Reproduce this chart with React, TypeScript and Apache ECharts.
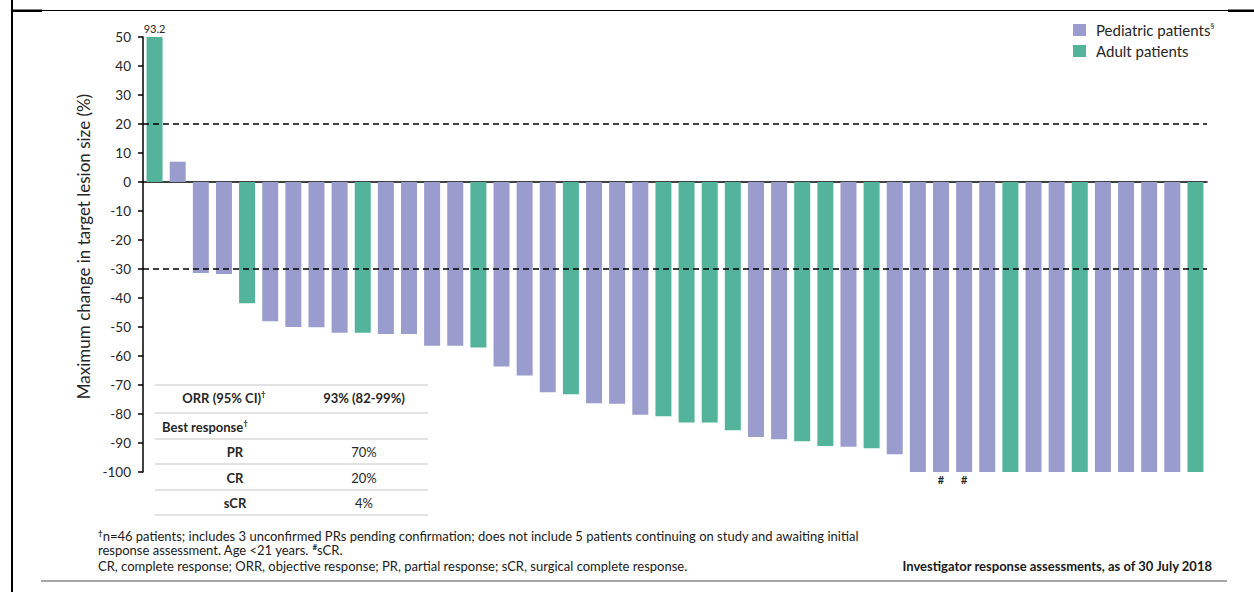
import React, { useEffect, useRef } from "react";
import * as echarts from "echarts";

// Patients in order of best response (waterfall order)
const patients = [
  "1", "2", "3", "4", "5", "6", "7", "8", "9", "10",
  "11", "12", "13", "14", "15", "16", "17", "18", "19", "20",
  "21", "22", "23", "24", "25", "26", "27", "28", "29", "30",
  "31", "32", "33", "34", "35", "36", "37", "38", "39", "40",
  "41", "42", "43", "44", "45", "46",
];

// Maximum change in target lesion size (%)
const bestChange = [
  93.2, 7, -31.4, -31.7, -41.8, -48, -50, -50.1, -52, -52,
  -52.4, -52.4, -56.5, -56.5, -57.1, -63.6, -66.7, -72.5, -73.2, -76.3,
  -76.5, -80.3, -80.8, -82.9, -82.9, -85.6, -87.9, -88.7, -89.4, -91.0,
  -91.3, -91.8, -93.9, -100, -100, -100, -100, -100, -100, -100,
  -100, -100, -100, -100, -100, -100,
];

// P = pediatric, A = adult
const cohort = [
  "A", "P", "P", "P", "A", "P", "P", "P", "P", "A",
  "P", "P", "P", "P", "A", "P", "P", "P", "A", "P",
  "P", "P", "A", "A", "A", "A", "P", "P", "A", "A",
  "P", "A", "P", "P", "P", "P", "P", "A", "P", "P",
  "A", "P", "P", "P", "P", "A",
];

// Patients with a surgical complete response
const sCRPatients = ["35", "36"];

const seriesNames = ["Pediatric patients", "Adult patients"];
const seriesCodes = ["P", "A"];
const seriesColors = ["#999ccd", "#53b39b"];

// Y axis
const yMin = -100;
const yMax = 50;
const yStep = 10;
const thresholds = [20, -30];

// Summary table
const orrLabel = "ORR (95% CI)";
const orrValue = "93% (82-99%)";
const bestResponseLabel = "Best response";
const responseTypes = ["PR", "CR", "sCR"];
const responseRates = ["70%", "20%", "4%"];

const footLine1 =
  "n=46 patients; includes 3 unconfirmed PRs pending confirmation; does not include 5 patients continuing on study and awaiting initial";
const footLine2a = "response assessment. Age <21 years. ";
const footLine2b = "sCR.";
const footLine3 =
  "CR, complete response; ORR, objective response; PR, partial response; sCR, surgical complete response.";
const sourceNote = "Investigator response assessments, as of 30 July 2018";

const FONT = "Lato";
const INK = "#262626";

function buildSeriesData(code: string) {
  return bestChange.map((v, i) => {
    if (cohort[i] !== code) return "-";
    const item: any = { value: v };
    if (v > yMax) {
      item.label = {
        show: true,
        position: "top",
        distance: 3,
        formatter: "{c}",
        fontSize: 11,
        color: INK,
        fontFamily: FONT,
      };
    } else if (sCRPatients.includes(patients[i])) {
      item.label = {
        show: true,
        position: "outside",
        distance: 2,
        formatter: "#",
        fontSize: 11,
        fontWeight: "bold",
        color: INK,
        fontFamily: FONT,
      };
    }
    return item;
  });
}

function tableGraphics(): any[] {
  const x0 = 155;
  const x1 = 428;
  const lineYs = [385, 413, 439, 464, 490, 515];
  const colA = 235;
  const colB = 364;
  const els: any[] = lineYs.map((y) => ({
    type: "line",
    shape: { x1: x0, y1: y, x2: x1, y2: y },
    style: { stroke: "#d9d9d9", lineWidth: 1.5 },
    silent: true,
  }));
  const rich = {
    b: { fontSize: 13, fontWeight: "bold", fill: INK, color: INK, fontFamily: FONT, lineHeight: 16 },
    sup: { fontSize: 8, fontWeight: "bold", fill: INK, color: INK, fontFamily: FONT, verticalAlign: "top", lineHeight: 16 },
  };
  const txt = (x: number, y: number, text: string, align: string, bold: boolean, useRich = false) => ({
    type: "text",
    x,
    y,
    silent: true,
    style: {
      text,
      fill: INK,
      fontFamily: FONT,
      fontSize: 13,
      fontWeight: bold ? "bold" : "normal",
      align,
      textAlign: align,
      verticalAlign: "middle",
      textVerticalAlign: "middle",
      ...(useRich ? { rich } : {}),
    },
  });
  els.push(txt(224, 398, `{b|${orrLabel}}{sup|†}`, "center", true, true));
  els.push(txt(colB, 398, orrValue, "center", true));
  els.push(txt(162, 427, `{b|${bestResponseLabel}}{sup|†}`, "left", true, true));
  const rowYs = [452, 478, 503];
  responseTypes.forEach((t, i) => {
    els.push(txt(colA, rowYs[i], t, "center", true));
    els.push(txt(colB, rowYs[i], responseRates[i], "center", false));
  });
  return els;
}

function footGraphics(): any[] {
  const rich = {
    n: { fontSize: 13, fill: "#1a1a1a", color: "#1a1a1a", fontFamily: FONT, lineHeight: 15 },
    s: { fontSize: 8, fill: "#1a1a1a", color: "#1a1a1a", fontFamily: FONT, fontWeight: "bold", verticalAlign: "top", lineHeight: 15 },
  };
  const base = (x: number, y: number, text: string) => ({
    type: "text",
    x,
    y,
    silent: true,
    style: {
      text,
      fill: "#1a1a1a",
      fontFamily: FONT,
      fontSize: 13,
      align: "left",
      textAlign: "left",
      verticalAlign: "middle",
      textVerticalAlign: "middle",
      rich,
    },
  });
  return [
    base(98, 536, `{s|†}{n|${footLine1}}`),
    base(98, 550, `{n|${footLine2a}}{s|#}{n|${footLine2b}}`),
    base(98, 566, `{n|${footLine3}}`),
    {
      type: "text",
      x: 1212,
      y: 566,
      silent: true,
      style: {
        text: sourceNote,
        fill: "#1a1a1a",
        fontFamily: FONT,
        fontSize: 13,
        fontWeight: "bold",
        align: "right",
        textAlign: "right",
        verticalAlign: "middle",
        textVerticalAlign: "middle",
      },
    },
  ];
}

function frameGraphics(): any[] {
  return [
    { type: "line", shape: { x1: 12, y1: 0, x2: 12, y2: 592 }, style: { stroke: "#000", lineWidth: 2 }, silent: true },
    { type: "line", shape: { x1: 12, y1: 10.5, x2: 1254, y2: 10.5 }, style: { stroke: "#000", lineWidth: 1.2 }, silent: true },
    { type: "rect", shape: { x: 12, y: 9.5, width: 30, height: 2.5 }, style: { fill: "#000" }, silent: true },
    { type: "rect", shape: { x: 1228, y: 9.5, width: 26, height: 2.5 }, style: { fill: "#000" }, silent: true },
    { type: "line", shape: { x1: 41, y1: 581, x2: 1227, y2: 581 }, style: { stroke: "#a6a6a6", lineWidth: 2 }, silent: true },
  ];
}

export default function App() {
  const ref = useRef<HTMLDivElement>(null);

  useEffect(() => {
    if (!ref.current) return;
    const chart = echarts.init(ref.current, undefined, { renderer: "svg" });

    const series: any[] = seriesCodes.map((code, k) => ({
      name: seriesNames[k],
      type: "bar",
      data: buildSeriesData(code),
      barWidth: 16,
      barGap: "-100%",
      clip: true,
      itemStyle: { color: seriesColors[k] },
      emphasis: { disabled: true },
      ...(k === 0
        ? {
            markLine: {
              silent: true,
              symbol: ["none", "none"],
              label: { show: false },
              lineStyle: { color: "#000", type: [6, 4], width: 1.5 },
              data: thresholds.map((t) => ({ yAxis: t })),
            },
          }
        : {}),
    }));

    chart.setOption({
      animation: false,
      textStyle: { fontFamily: FONT },
      grid: { left: 143, right: 47, top: 37, bottom: 120, outerBoundsMode: "none", containLabel: false },
      legend: {
        orient: "vertical",
        left: 1073,
        top: 22,
        padding: 0,
        itemWidth: 13,
        itemHeight: 12,
        itemGap: 6,
        icon: "rect",
        selectedMode: false,
        data: seriesNames,
        formatter: (name: string) =>
          name === seriesNames[0] ? `{t|${name}}{s|§}` : `{t|${name}}`,
        textStyle: {
          rich: {
            t: { fontSize: 15, color: INK, fontFamily: FONT, lineHeight: 16, padding: [0, 0, 0, 5] },
            s: { fontSize: 8, color: INK, fontFamily: FONT, verticalAlign: "top", lineHeight: 16 },
          },
        },
      },
      xAxis: {
        type: "category",
        data: patients,
        axisLine: { onZero: true, lineStyle: { color: "#000", width: 1.5 } },
        axisTick: { show: false },
        axisLabel: { show: false },
        splitLine: { show: false },
      },
      yAxis: {
        type: "value",
        min: yMin,
        max: yMax,
        interval: yStep,
        name: "Maximum change in target lesion size (%)",
        nameLocation: "middle",
        nameGap: 50,
        nameTextStyle: { fontSize: 17, color: INK, fontFamily: FONT, padding: [0, 0, 0, 16] },
        axisLine: { show: true, lineStyle: { color: "#000", width: 1.5 } },
        axisTick: { show: true, length: 5, lineStyle: { color: "#000", width: 1.5 } },
        axisLabel: { color: INK, fontSize: 13.5, margin: 12, fontFamily: FONT },
        splitLine: { show: false },
      },
      series,
      graphic: { elements: [...frameGraphics(), ...tableGraphics(), ...footGraphics()] },
    });

    return () => chart.dispose();
  }, []);

  return (
    <div
      ref={ref}
      style={{ position: "fixed", left: 0, top: 0, width: 1254, height: 592, background: "#fff" }}
    />
  );
}
